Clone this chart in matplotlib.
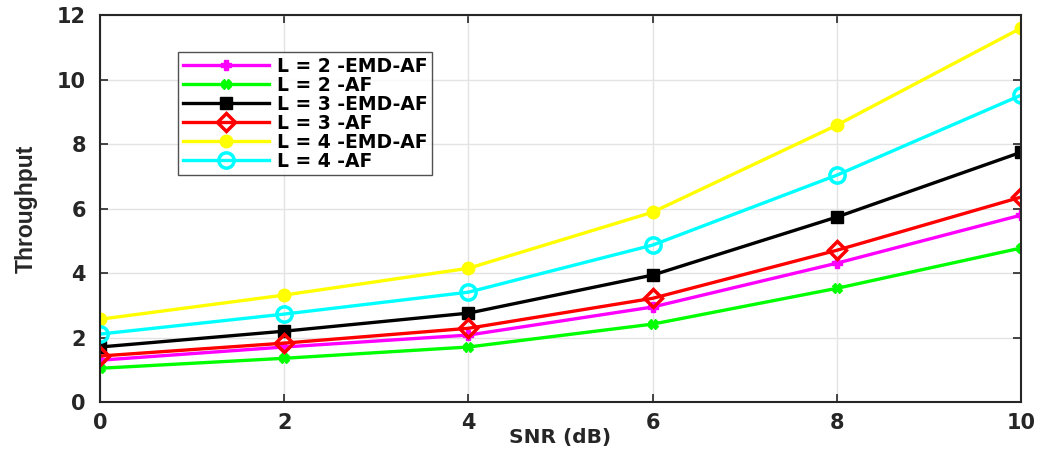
import matplotlib
matplotlib.use("Agg")
import matplotlib.pyplot as plt

# --- Data ---
snr = [0, 2, 4, 6, 8, 10]
l2_emd = [1.30, 1.71, 2.08, 2.95, 4.31, 5.80]
l2_af = [1.05, 1.36, 1.71, 2.42, 3.53, 4.78]
l3_emd = [1.71, 2.20, 2.76, 3.94, 5.74, 7.75]
l3_af = [1.43, 1.83, 2.29, 3.22, 4.71, 6.36]
l4_emd = [2.57, 3.32, 4.15, 5.89, 8.59, 11.60]
l4_af = [2.11, 2.73, 3.41, 4.87, 7.04, 9.52]
labels = ["L = 2 -EMD-AF", "L = 2 -AF", "L = 3 -EMD-AF", "L = 3 -AF", "L = 4 -EMD-AF", "L = 4 -AF"]

plt.rcParams['font.family'] = ['DejaVu Sans']
TXT = '#262626'

fig = plt.figure(figsize=(10.4, 4.57), dpi=100)
ax = fig.add_axes([0.096, 0.120, 0.886, 0.847])

lw = 2.4
ax.plot(snr, l2_emd, color='#ff00ff', lw=lw, marker='P', ms=7, mew=1, label=labels[0])
ax.plot(snr, l2_af, color='#00ff00', lw=lw, marker='X', ms=7, mew=1, label=labels[1])
ax.plot(snr, l3_emd, color='black', lw=lw, marker='s', ms=8, mfc='black', label=labels[2])
ax.plot(snr, l3_af, color='red', lw=lw, marker='D', ms=9, mfc='none', mew=2.5, label=labels[3])
ax.plot(snr, l4_emd, color='#ffff00', lw=lw, marker='o', ms=9, mfc='#ffff00', label=labels[4])
ax.plot(snr, l4_af, color='#00ffff', lw=lw, marker='o', ms=11, mfc='none', mew=2.5, label=labels[5])

ax.set_xlim(0, 10)
ax.set_ylim(0, 12)
ax.set_xticks(snr)
ax.set_yticks(range(0, 13, 2))
ax.grid(True, color='#e3e3e3', lw=1)
ax.tick_params(direction='in', length=6, width=1.2, labelsize=15, pad=10,
               top=True, right=True, colors=TXT)
ax.tick_params(axis='x', pad=8)
for t in ax.get_xticklabels() + ax.get_yticklabels():
    t.set_fontweight('bold')
for s in ax.spines.values():
    s.set_linewidth(1.5)
    s.set_color(TXT)

ax.set_xlabel("SNR (dB)", fontsize=14.5, fontweight='bold', color=TXT)
ax.xaxis.set_label_coords(0.5, -0.068)
ax.set_ylabel("Throughput", fontsize=16.5, family=['Liberation Sans Narrow', 'Liberation Sans'],
              fontweight='bold', color=TXT, labelpad=14)

leg = ax.legend(loc='upper left', bbox_to_anchor=(0.085, 0.905),
                prop={'weight': 'bold', 'size': 13.5}, frameon=True, fancybox=False,
                edgecolor=TXT, handlelength=4.6, borderpad=0.25, labelspacing=0.0,
                handletextpad=0.4, borderaxespad=0)
leg.get_frame().set_linewidth(1.0)

fig.savefig("out.png", dpi=100)
